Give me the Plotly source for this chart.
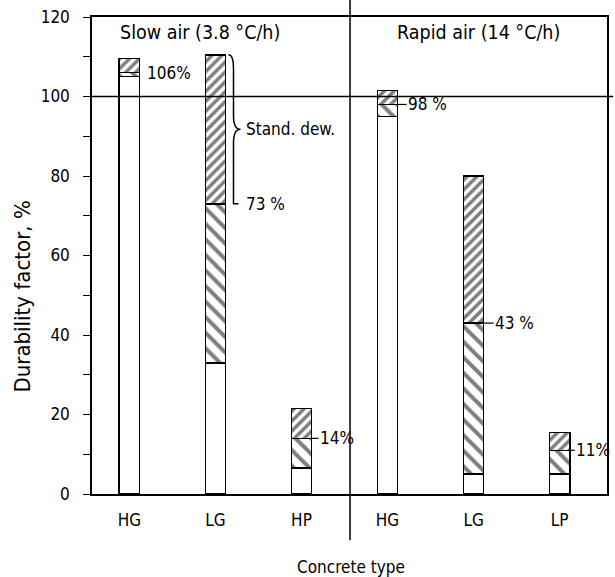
import plotly.graph_objects as go

# ---- data ----
categories = ["HG", "LG", "HP", "HG", "LG", "LP"]
group_titles = ["Slow air (3.8 °C/h)", "Rapid air (14 °C/h)"]
mean_vals = [106, 73, 14, 98, 43, 11]          # mean durability factor, %
low_vals = [105, 33, 6.5, 95, 5, 5]            # mean - std. dev.
high_vals = [109.5, 110.5, 21.5, 101.5, 80, 15.5]  # mean + std. dev.
mean_labels = ["106%", "73 %", "14%", "98 %", "43 %", "11%"]
y_ticks = [0, 20, 40, 60, 80, 100, 120]
ref_line = 100

x_pos = list(range(len(categories)))
FONT = "DejaVu Sans Condensed, Liberation Sans Narrow, sans-serif"
bw = 0.235
hw = bw / 2
px = 1 / 86.4  # one pixel in x data units (approx.)

lower_seg = [m - l for m, l in zip(mean_vals, low_vals)]
upper_seg = [h - m for h, m in zip(high_vals, mean_vals)]

line = dict(color="black", width=1.5)
fig = go.Figure()
fig.add_trace(go.Bar(x=x_pos, y=low_vals, width=bw,
                     marker=dict(color="white", line=line)))
fig.add_trace(go.Bar(x=x_pos, y=lower_seg, width=bw,
                     marker=dict(color="white", line=line,
                                 pattern=dict(shape="\\", fgcolor="black", bgcolor="white",
                                              size=11, solidity=0.36))))
fig.add_trace(go.Bar(x=x_pos, y=upper_seg, width=bw,
                     marker=dict(color="white", line=line,
                                 pattern=dict(shape="/", fgcolor="black", bgcolor="white",
                                              size=7, solidity=0.5))))

shapes = []
# reference line at 100 %
shapes.append(dict(type="line", xref="paper", yref="y", x0=0, x1=1.012,
                   y0=ref_line, y1=ref_line, line=dict(color="black", width=1.5)))
# divider between groups
shapes.append(dict(type="line", xref="x", yref="paper", x0=2.564, x1=2.564,
                   y0=-0.097, y1=1.036, line=dict(color="black", width=1.5)))

annotations = []
gaps = [6, 19, 6, 8, 9, 4]
tick_marks = [False, False, True, True, True, True]
for i, (xp, m, lab) in enumerate(zip(x_pos, mean_vals, mean_labels)):
    annotations.append(dict(x=xp + hw + gaps[i] * px, y=m, xref="x", yref="y",
                            text=lab, showarrow=False, xanchor="left", yanchor="middle",
                            font=dict(family=FONT, size=17, color="black")))
    if tick_marks[i]:
        shapes.append(dict(type="line", xref="x", yref="y",
                           x0=xp + hw - 2 * px, x1=xp + hw + (gaps[i] + 1) * px,
                           y0=m, y1=m, line=dict(color="black", width=1.2)))

# curly brace for the standard deviation of LG (slow air)
i = 1
xs = x_pos[i] + hw + 3 * px
xb = x_pos[i] + hw + 8 * px
xt = x_pos[i] + hw + 15 * px
top, bot = high_vals[i], mean_vals[i]
mid = (top + bot) / 2
r = 3.5
path = (f"M {xs},{top} Q {xb},{top} {xb},{top - r} L {xb},{mid + r} "
        f"Q {xb},{mid} {xt},{mid} Q {xb},{mid} {xb},{mid - r} "
        f"L {xb},{bot + r} Q {xb},{bot} {xs + 5*px},{bot} L {x_pos[i] + hw + 13*px},{bot}")
shapes.append(dict(type="path", xref="x", yref="y", path=path,
                   line=dict(color="black", width=1.5)))
annotations.append(dict(x=xt + 4 * px, y=mid, xref="x", yref="y", text="Stand. dew.",
                        showarrow=False, xanchor="left", yanchor="middle",
                        font=dict(family=FONT, size=17, color="black")))

# group titles
annotations.append(dict(x=0.05, y=0.967, xref="paper", yref="paper", text=group_titles[0],
                        showarrow=False, xanchor="left", yanchor="middle",
                        font=dict(family=FONT, size=19.5, color="black")))
annotations.append(dict(x=0.589, y=0.967, xref="paper", yref="paper", text=group_titles[1],
                        showarrow=False, xanchor="left", yanchor="middle",
                        font=dict(family=FONT, size=19.5, color="black")))
# axis titles
annotations.append(dict(x=-0.135, y=0.415, xref="paper", yref="paper",
                        text="Durability factor, %", textangle=-90, showarrow=False,
                        xanchor="center", yanchor="middle",
                        font=dict(family=FONT, size=22, color="black")))
annotations.append(dict(x=0.503, y=-0.153, xref="paper", yref="paper",
                        text="Concrete type", showarrow=False,
                        xanchor="center", yanchor="middle",
                        font=dict(family=FONT, size=17, color="black")))

fig.update_layout(
    width=615, height=577,
    margin=dict(l=92, r=6, t=17, b=83),
    paper_bgcolor="white", plot_bgcolor="white",
    barmode="stack", showlegend=False,
    shapes=shapes, annotations=annotations,
    font=dict(family=FONT, size=15, color="black"),
    xaxis=dict(range=[-0.434, 5.55], tickvals=x_pos, ticktext=categories,
               showgrid=False, zeroline=False, showline=True, linecolor="black",
               linewidth=1.5, mirror=True, ticks="", ticklabelstandoff=10,
               tickfont=dict(family=FONT, size=17, color="black")),
    yaxis=dict(range=[0, 120], tickvals=y_ticks, showgrid=False, zeroline=False,
               showline=True, linecolor="black", linewidth=1.5, mirror=True,
               ticks="outside", ticklen=7, tickwidth=1.2, tickcolor="black",
               ticklabelstandoff=10,
               minor=dict(dtick=10, ticks="outside", ticklen=7, tickcolor="black",
                          tickwidth=1.2, showgrid=False),
               tickfont=dict(family=FONT, size=17, color="black")),
)

fig.write_html("out.html", config={"displayModeBar": False},
               post_script="document.body.style.margin='0';document.body.style.overflow='hidden';")
